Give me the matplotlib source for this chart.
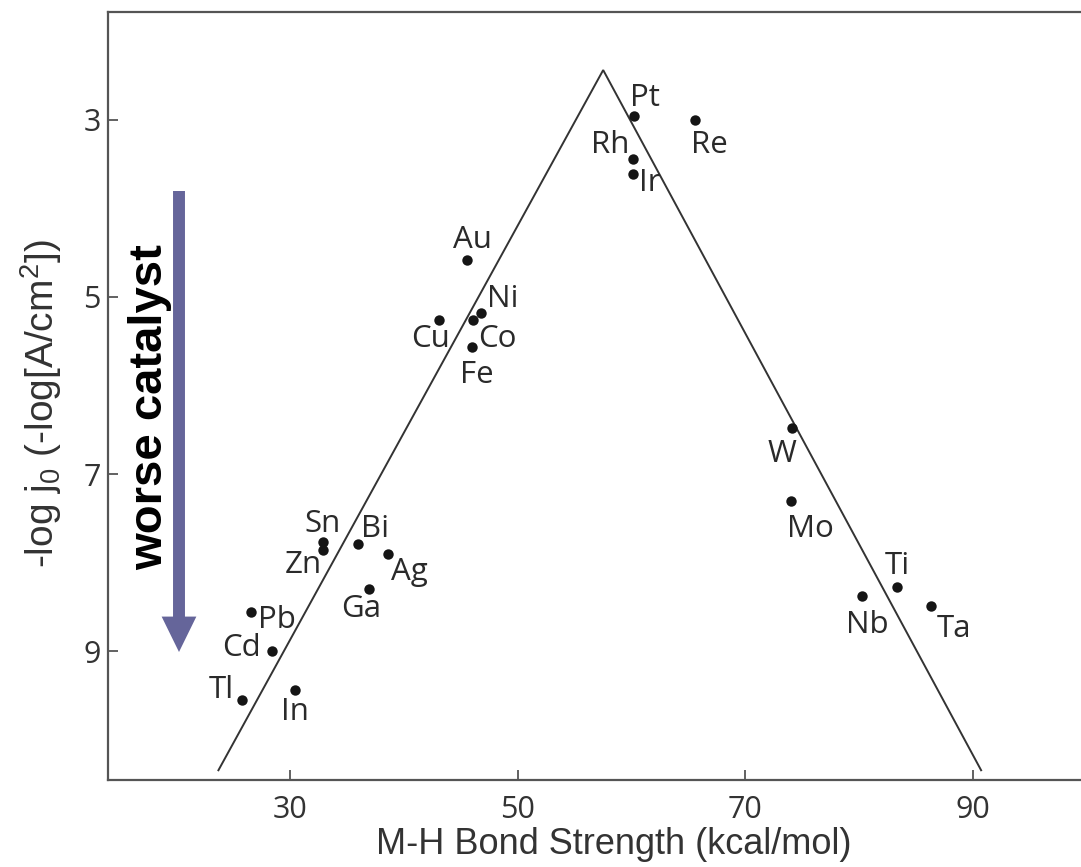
import matplotlib
matplotlib.use("Agg")
import matplotlib.pyplot as plt
from matplotlib.patches import FancyArrowPatch

plt.rcParams["mathtext.fontset"] = "custom"
plt.rcParams["mathtext.rm"] = "Liberation Sans"
plt.rcParams["mathtext.it"] = "Liberation Sans:italic"

# Exchange current density vs. metal-hydrogen bond strength
metals = ["Pt", "Re", "Rh", "Ir", "Au", "Ni", "Co", "Cu", "Fe", "W", "Mo",
          "Ti", "Nb", "Ta", "Sn", "Zn", "Bi", "Ag", "Ga", "Pb", "Cd", "Tl", "In"]
bond_strength = [60.2, 65.6, 60.15, 60.15, 45.5, 46.8, 46.05, 43.1, 45.95, 74.1, 74.0,
                 83.3, 80.2, 86.3, 32.9, 32.9, 35.95, 38.6, 36.9, 26.6, 28.4, 25.8, 30.4]
neg_log_j0 = [2.96, 3.0, 3.44, 3.61, 4.58, 5.18, 5.26, 5.26, 5.56, 6.48, 7.30,
              8.27, 8.37, 8.49, 7.76, 7.85, 7.79, 7.90, 8.30, 8.56, 9.00, 9.55, 9.43]

# Volcano guide line
volcano_x = [23.7, 57.5, 90.7]
volcano_y = [10.34, 2.44, 10.34]

x_ticks = [30, 50, 70, 90]
y_ticks = [3, 5, 7, 9]

# Label placement relative to each point (pixels, text baseline, y downward)
label_offset_px = {
    "Pt": (11.3, -10), "Re": (13.7, 33.3), "Rh": (-23.3, -6), "Ir": (16.7, 17.7),
    "Au": (5.6, -11.7), "Ni": (21.7, -6.3), "Co": (24.6, 26.7), "Cu": (-8.6, 26.7),
    "Fe": (5.6, 36.6), "W": (-9.7, 33.4), "Mo": (19.7, 36), "Ti": (0.3, -12.3),
    "Nb": (5.7, 37.3), "Ta": (22.6, 30.7), "Sn": (-1, -10), "Zn": (-19.9, 23.3),
    "Bi": (17, -7.3), "Ag": (21.7, 26), "Ga": (-7.5, 27.4), "Pb": (25.5, 16),
    "Cd": (-30.9, 5), "Tl": (-21, -2.4), "In": (0, 30),
}

W_PX, H_PX = 1081, 867
fig = plt.figure(figsize=(W_PX / 100, H_PX / 100), dpi=100)
ax_left, ax_right, ax_top, ax_bottom = 108, 1120, 12, 780
ax = fig.add_axes([ax_left / W_PX, 1 - ax_bottom / H_PX,
                   (ax_right - ax_left) / W_PX, (ax_bottom - ax_top) / H_PX])

ax.set_xlim(14.0, 102.9)
ax.set_ylim(10.45, 1.785)

ink = "#333333"
ax.plot(volcano_x, volcano_y, color="#333333", lw=1.4, solid_joinstyle="miter")
ax.plot(bond_strength, neg_log_j0, "o", color="#151515", ms=7.5, mec="none")

for m, x, y in zip(metals, bond_strength, neg_log_j0):
    dx, dy = label_offset_px[m]
    ax.annotate(m, (x, y), xytext=(dx * 0.72, -dy * 0.72), textcoords="offset points",
                ha="center", va="baseline", fontsize=22.5, family="Open Sans",
                color="#2a2a2a")

for side in ["left", "bottom", "top", "right"]:
    ax.spines[side].set_color("#555555")
    ax.spines[side].set_linewidth(1.6)
ax.spines["right"].set_visible(False)

ax.set_xticks(x_ticks)
ax.set_yticks(y_ticks)
ax.tick_params(direction="in", length=7, width=1.3, color="#555555",
               labelsize=22, labelcolor=ink, top=False, right=False)
ax.tick_params(axis="x", pad=11)
ax.tick_params(axis="y", pad=5)
for lab in ax.get_xticklabels() + ax.get_yticklabels():
    lab.set_family("Open Sans")

ax.set_xlabel("M-H Bond Strength (kcal/mol)", fontsize=26, family="Liberation Sans",
              color=ink)
ax.xaxis.set_label_coords(0.5, -0.061)
ax.set_ylabel(r"-log j$_0$ (-log[A/cm$^2$])", fontsize=28, family="Liberation Sans",
              color=ink)
ax.yaxis.set_label_coords(-0.043, 0.49)

# "worse catalyst" indicator arrow
arrow = FancyArrowPatch((179, H_PX - 191), (179, H_PX - 652), transform=None,
                        arrowstyle="simple,head_width=25,head_length=25.5,tail_width=8.6",
                        mutation_scale=1, color="#65659a", lw=0,
                        shrinkA=0, shrinkB=0)
fig.patches.append(arrow)
fig.text(150 / W_PX, 1 - 407 / H_PX, "worse catalyst", rotation=90, ha="center",
         va="center", fontsize=34, fontweight="bold", family="Liberation Sans",
         color="black")

fig.savefig("out.png", dpi=100)
